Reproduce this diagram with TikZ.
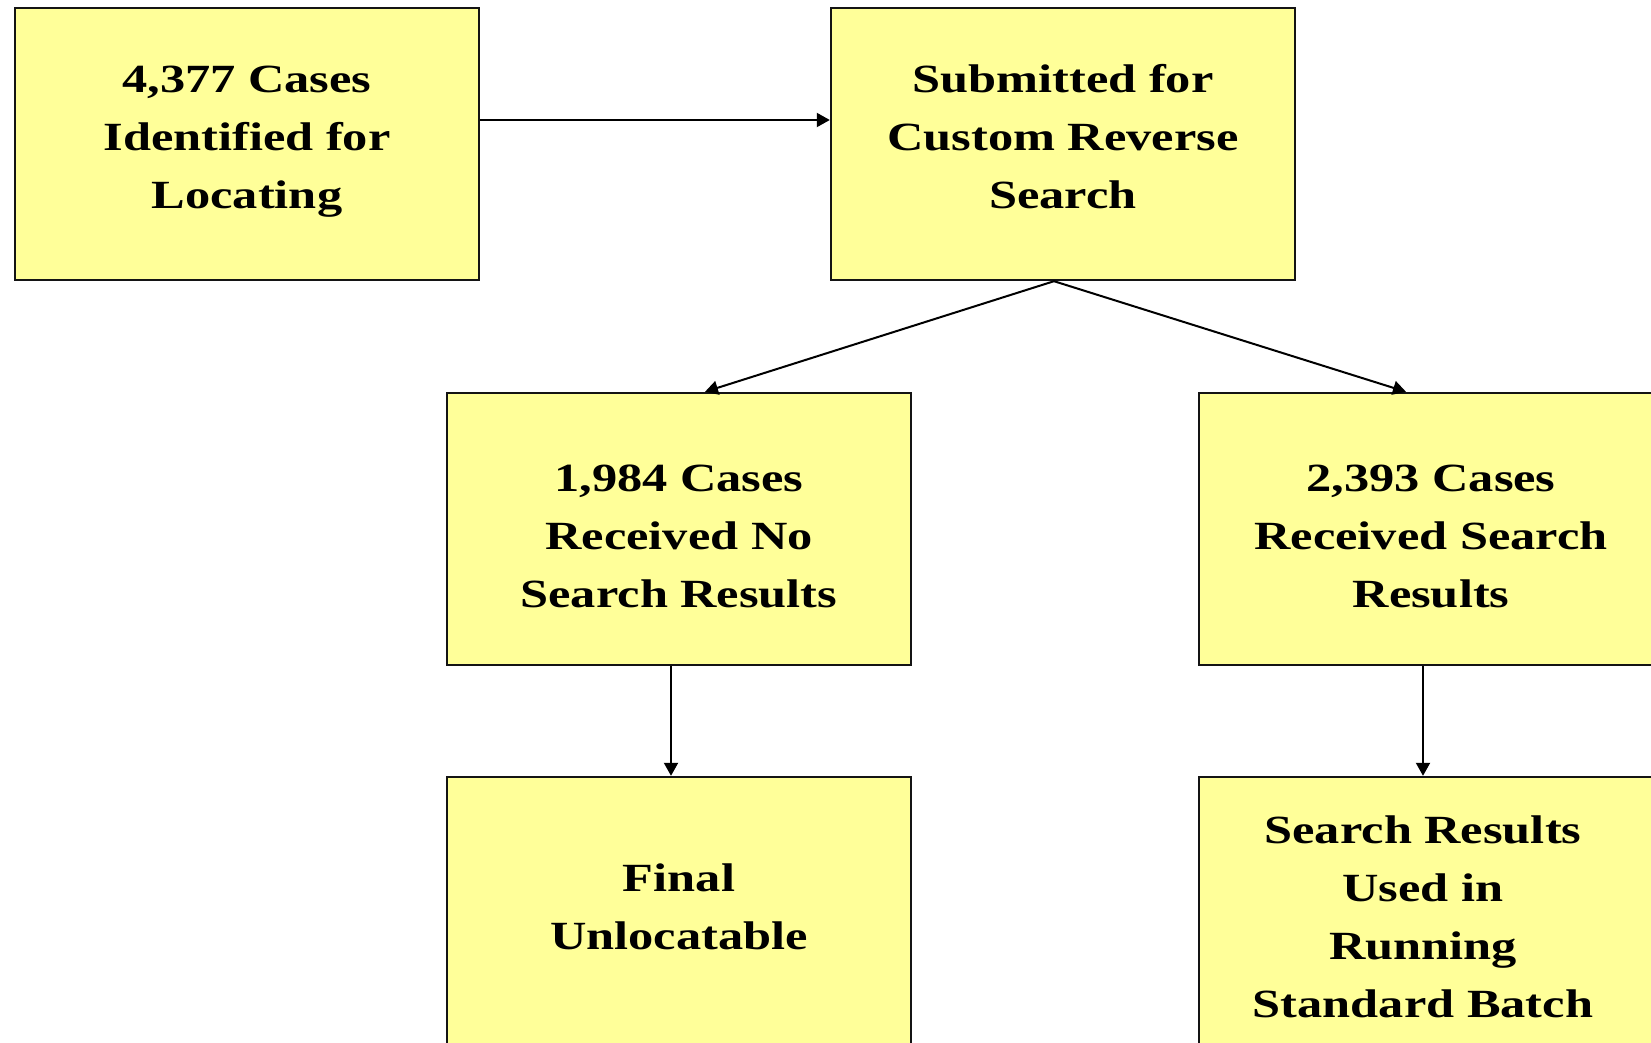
\documentclass[tikz,border=0pt]{standalone}
\usepackage{fontspec}
\setmainfont{Liberation Serif}[FakeStretch=1.26]
\usetikzlibrary{arrows.meta}
\definecolor{boxfill}{RGB}{255,255,153}
\definecolor{boxline}{RGB}{20,20,20}
\tikzset{
  flowbox/.style={draw=boxline, fill=boxfill, line width=2.4pt, rectangle,
    minimum width=464pt, minimum height=272pt, inner sep=0pt},
  boxtext/.style={inner sep=0pt, align=center,
    font=\bfseries\fontsize{40}{58}\selectfont},
  arr/.style={draw=black, line width=2pt, -{Triangle[length=13pt,width=14pt]}}
}
\begin{document}
\begin{tikzpicture}[x=1pt,y=-1pt]
\useasboundingbox (0,0) rectangle (1651,1043);
\clip (0,0) rectangle (1651,1043);
\node[flowbox] (A) at (247,144) {};
\node[flowbox] (B) at (1063,144) {};
\node[flowbox] (C) at (679,529) {};
\node[flowbox] (D) at (1431,529) {};
\node[flowbox] (E) at (679,913) {};
\node[flowbox] (F) at (1431,913) {};
\node[boxtext] (At) at ([yshift=2pt]A.center) {4,377 Cases\\Identified for\\Locating};
\node[boxtext] (Bt) at ([yshift=7pt]B.center) {Submitted for\\Custom Reverse\\Search};
\node[boxtext] (Ct) at ([yshift=-7pt]C.center) {1,984 Cases\\Received No\\Search Results};
\node[boxtext] (Dt) at ([yshift=-7pt]D.center) {2,393 Cases\\Received Search\\Results};
\node[boxtext] (Et) at ([yshift=6pt]E.center) {Final\\Unlocatable};
\node[boxtext] (Ft) at ([xshift=-8pt,yshift=-4pt]F.center) {Search Results\\Used in\\Running\\Standard Batch};
\draw[arr] ([yshift=24pt]A.east) -- ([yshift=24pt]B.west);
\coordinate (apex) at ([xshift=-9pt]B.south);
\draw[arr] (apex) -- ([xshift=26pt]C.north);
\draw[arr] (apex) -- ([xshift=-25pt]D.north);
\draw[arr] ([xshift=-8pt]C.south) -- ([xshift=-8pt]E.north);
\draw[arr] ([xshift=-8pt]D.south) -- ([xshift=-8pt]F.north);
\end{tikzpicture}
\end{document}
